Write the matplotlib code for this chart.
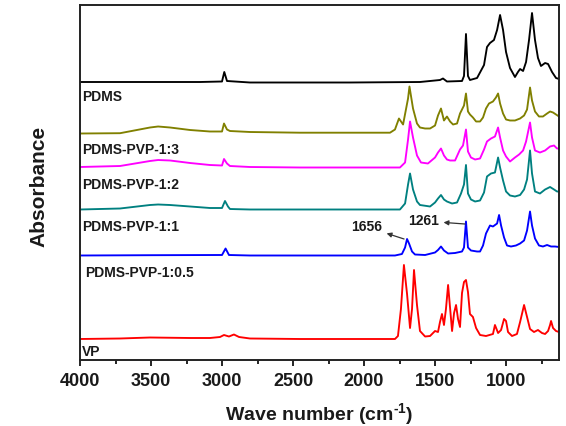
import matplotlib
matplotlib.use("Agg")
import matplotlib.pyplot as plt

plt.rcParams["font.family"] = ["Liberation Sans", "DejaVu Sans"]
plt.rcParams["font.weight"] = "bold"
plt.rcParams["mathtext.fontset"] = "custom"
plt.rcParams["mathtext.rm"] = "Liberation Sans:bold"
plt.rcParams["mathtext.bf"] = "Liberation Sans:bold"
plt.rcParams["mathtext.default"] = "bf"

# FTIR spectra (wavenumber in cm-1, absorbance in a.u.)
pdms_wn = [4000, 3155, 3000, 2984, 2965, 2803, 2099, 1606, 1465, 1444, 1416, 1310, 1296, 1282, 1268, 1254,
           1204, 1155, 1134, 1113, 1085, 1063, 1042, 1021, 1000, 972, 937, 916, 901, 880, 859, 838, 817, 796,
           775, 754, 725, 704, 676, 648, 627]
pdms_abs = [0, 0, 0.5, 10, 1, -0.5, -0.5, 0, 2, 3.5, 0.5, 1, 6, 48, 6, 2,
            4, 17, 35, 39, 42, 52, 67, 52, 30, 14, 5, 10, 13, 11, 20, 42, 69, 42,
            24, 16, 19, 18, 10, 4, 3]

p13_wn = [4000, 3718, 3507, 3450, 3366, 3225, 3085, 3000, 2986, 2965, 2944, 2803, 2451, 2099, 1817, 1782, 1754,
          1725, 1690, 1680, 1655, 1627, 1606, 1570, 1535, 1500, 1479, 1458, 1437, 1416, 1394, 1373, 1345, 1324,
          1310, 1296, 1282, 1268, 1254, 1233, 1211, 1183, 1162, 1141, 1120, 1092, 1071, 1056, 1042, 1021, 1000,
          972, 937, 901, 873, 852, 831, 817, 796, 768, 740, 711, 690, 669, 648, 627]
p13_abs = [0, 0.3, 6, 7, 6, 3.5, 2, 2, 10, 4, 2.5, 1.5, 0.8, 0.8, 0.8, 4, 15,
           9, 35, 47, 25, 10, 6, 5, 5, 8, 18, 25, 13, 17, 12, 9, 10, 20,
           24, 28, 40, 22, 19, 16, 12, 12, 16, 25, 30, 32, 36, 40, 30, 20, 14,
           13, 13, 15, 18, 24, 46, 33, 22, 17, 17, 20, 22, 21, 19, 17]

p12_wn = [4000, 3718, 3507, 3450, 3366, 3225, 3085, 3000, 2986, 2965, 2944, 2803, 2451, 2099, 1747, 1711, 1690,
          1676, 1655, 1627, 1599, 1550, 1500, 1479, 1458, 1437, 1416, 1394, 1359, 1324, 1303, 1282, 1268, 1247,
          1218, 1183, 1155, 1134, 1106, 1078, 1056, 1042, 1021, 1000, 972, 937, 908, 880, 859, 831, 817, 796,
          761, 725, 690, 662, 641, 627]
p12_abs = [0.5, 1.5, 6.5, 7.5, 7, 4.5, 2.5, 2, 8.5, 4, 1.5, 0.5, 0, 0, 0, 5, 28,
           46, 30, 12, 5, 4, 10, 15, 19, 12, 8, 7, 7, 18, 22, 38, 16, 10,
           8, 9, 18, 26, 29, 31, 40, 30, 17, 11, 6, 10, 13, 17, 26, 45, 30, 17,
           15, 17, 21, 22, 19, 19]

p11_wn = [4000, 3718, 3507, 3450, 3366, 3225, 3085, 3000, 2979, 2958, 2944, 2803, 2099, 1747, 1711, 1690, 1676,
          1655, 1627, 1606, 1535, 1500, 1479, 1458, 1437, 1416, 1380, 1345, 1317, 1296, 1282, 1268, 1247, 1218,
          1183, 1155, 1134, 1106, 1078, 1056, 1042, 1021, 1000, 972, 937, 901, 873, 852, 831, 817, 796, 761,
          725, 690, 662, 641, 627]
p11_abs = [0, 1, 4.5, 5, 4.5, 3, 1.5, 1.5, 8.5, 3, 0.5, 0, 0, 0, 6, 25, 36,
           20, 8, 4.5, 3, 7, 11, 14.5, 10, 8, 6, 7, 16, 25, 44.5, 16, 10, 8,
           9, 17, 33, 36, 37, 52, 42, 29, 18, 14, 13, 14.5, 20, 30, 59, 36, 18, 16,
           20, 22.5, 20, 18, 18]

p105_wn = [4000, 3507, 3000, 2975, 2951, 2803, 2099, 1782, 1733, 1711, 1697, 1683, 1662, 1641, 1570, 1500, 1479,
           1458, 1437, 1408, 1359, 1310, 1296, 1282, 1268, 1247, 1204, 1183, 1162, 1141, 1113, 1092, 1063, 1049,
           1035, 1014, 993, 965, 930, 901, 873, 852, 831, 817, 796, 768, 740, 711, 683, 655, 627]
p105_abs = [0, 0.3, 0.5, 7, 0.5, 0, 0, 0, 1.5, 8, 16.5, 12, 4, 1, 0.5, 3, 5.5,
            9, 5, 2, 2.5, 4, 8, 34, 8, 5, 4, 4, 10, 22, 30, 29, 32, 40.5,
            30, 18, 10, 9, 10, 12, 15, 25, 44, 30, 17, 10, 9, 10.5, 9, 9, 8.5]

vp_wn = [4000, 3718, 3507, 3225, 3085, 3014, 2986, 2951, 2916, 2880, 2803, 2451, 2099, 1782, 1761, 1740, 1719,
         1697, 1676, 1662, 1648, 1627, 1606, 1570, 1535, 1500, 1479, 1465, 1451, 1437, 1423, 1408, 1394, 1380,
         1366, 1352, 1338, 1324, 1310, 1296, 1282, 1268, 1254, 1233, 1211, 1183, 1141, 1092, 1078, 1056, 1035,
         1014, 1000, 986, 958, 923, 901, 873, 852, 831, 803, 775, 747, 725, 704, 690, 683, 669, 648, 627]
vp_abs = [0, 0.5, 1.5, 1, 1, 2, 4, 2.5, 4.5, 2, 0.5, 0, 0, 0, 3, 30, 74,
          45, 11, 30, 69, 34, 8, 2.5, 3, 8, 7, 17, 25, 14, 30, 54, 31, 8,
          26, 34, 20, 12, 46, 57, 59, 47, 25, 22, 11, 4, 3, 5, 14, 6, 9,
          20, 18, 7, 3, 5, 17, 34, 22, 10, 7, 9, 6, 5, 8, 14, 18, 11, 8, 7]

names = ["PDMS", "PDMS-PVP-1:3", "PDMS-PVP-1:2", "PDMS-PVP-1:1", "PDMS-PVP-1:0.5", "VP"]
colors = ["#000000", "#808000", "#ff00ff", "#008080", "#0000ff", "#ff0000"]
offsets = [278, 226.5, 192.5, 150.5, 104.5, 21]
label_y = [263, 210, 175, 133, 87, 8]

spectra = [(pdms_wn, pdms_abs), (p13_wn, p13_abs), (p12_wn, p12_abs),
           (p11_wn, p11_abs), (p105_wn, p105_abs), (vp_wn, vp_abs)]

fig = plt.figure(figsize=(5.66, 4.26), dpi=100)
ax = fig.add_axes([80 / 566, 1 - 360 / 426, 479 / 566, 355 / 426])

for (wn, ab), c, off in zip(spectra, colors, offsets):
    ax.plot(wn, [a + off for a in ab], color=c, lw=1.35)

txt = "#1a1a1a"
for name, y in zip(names, label_y):
    x = 3965 if name == "PDMS-PVP-1:0.5" else 3985
    ax.text(x, y, name, fontsize=10, fontweight="bold", color=txt, ha="left", va="center")

# peak markers
arrow = dict(arrowstyle="<|-", color="#333333", lw=0.9, mutation_scale=7, shrinkA=1, shrinkB=0)
ax.annotate("1656", xy=(1718, 121), xytext=(1979, 133), ha="center", va="center",
            fontsize=10, fontweight="bold", color=txt, arrowprops=arrow)
ax.annotate("1261", xy=(1289, 136), xytext=(1578, 139), ha="center", va="center",
            fontsize=10, fontweight="bold", color=txt, arrowprops=arrow)

ax.set_xlim(4000, 627)
ax.set_ylim(0, 355)
ax.set_xticks([4000, 3500, 3000, 2500, 2000, 1500, 1000])
ax.set_xticks([3750, 3250, 2750, 2250, 1750, 1250, 750], minor=True)
ax.tick_params(axis="x", which="major", direction="out", length=4, width=1.2,
               labelsize=13, pad=5, labelcolor=txt)
ax.tick_params(axis="x", which="minor", direction="out", length=3, width=1.2)
ax.set_yticks([])
for s in ax.spines.values():
    s.set_linewidth(1.4)
    s.set_color("#222222")

ax.set_xlabel(r"Wave number (cm$^{\text{-1}}$)", fontsize=14, fontweight="bold", color=txt)
ax.xaxis.set_label_coords(0.5, -0.115)
ax.set_ylabel("Absorbance", fontsize=15, fontweight="bold", color=txt)
ax.yaxis.set_label_coords(-0.065, 0.49)

fig.savefig("out.png", dpi=100)
